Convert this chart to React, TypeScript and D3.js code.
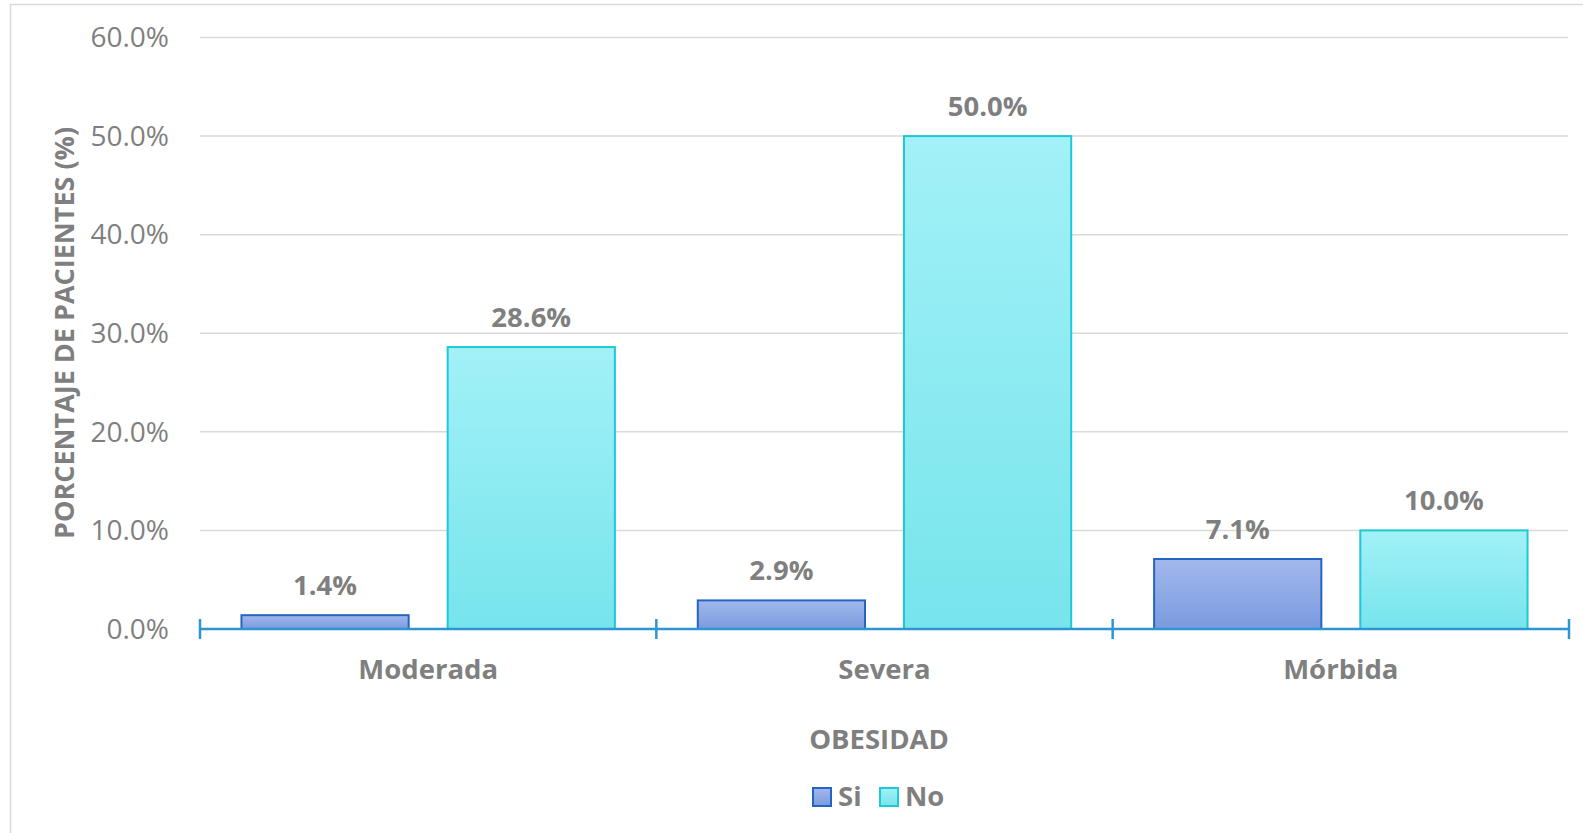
import React from "react";
import * as d3 from "d3";

const categories = ["Moderada", "Severa", "Mórbida"];
const seriesNames = ["Si", "No"];
const siValues = [1.4, 2.9, 7.1];
const noValues = [28.6, 50.0, 10.0];
const yTicks = [0, 10, 20, 30, 40, 50, 60];
const yTitle = "PORCENTAJE DE PACIENTES (%)";
const xTitle = "OBESIDAD";

const W = 1583;
const H = 833;
const FONT = "'Open Sans', sans-serif";
const GREY = "#7f7f7f";

export default function App() {
  const x0 = d3.scaleBand<string>().domain(categories).range([200, 1569]).paddingInner(0).paddingOuter(0);
  const x1 = d3.scaleBand<string>().domain(seriesNames).range([0, x0.bandwidth()]).paddingInner(0.189).paddingOuter(0.201);
  const y = d3.scaleLinear().domain([0, 60]).range([629, 37.5]);
  const series = [
    { name: "Si", values: siValues, grad: "gSi", stroke: "#2366c2" },
    { name: "No", values: noValues, grad: "gNo", stroke: "#1ec8d6" },
  ];
  const boundaries = [...categories.map((c) => x0(c) as number), x0.range()[1]];
  return (
    <svg width={W} height={H} style={{ position: "absolute", left: 0, top: 0 }}>
      <defs>
        <linearGradient id="gSi" x1="0" y1="0" x2="0" y2="1">
          <stop offset="0" stopColor="#a3b8ec" />
          <stop offset="1" stopColor="#7a9ade" />
        </linearGradient>
        <linearGradient id="gNo" x1="0" y1="0" x2="0" y2="1">
          <stop offset="0" stopColor="#a2f1f7" />
          <stop offset="1" stopColor="#77e4ec" />
        </linearGradient>
      </defs>
      <rect x={0} y={0} width={W} height={H} fill="#fff" />
      <rect x={10.5} y={4.5} width={W + 20} height={H + 20} fill="none" stroke="#d9d9d9" strokeWidth={1.5} />
      {yTicks.map((t) => (
        <g key={t}>
          {t > 0 && (
            <line x1={200} x2={1568} y1={y(t)} y2={y(t)} stroke="#d9d9d9" strokeWidth={1.5} />
          )}
          <text x={169} y={y(t)} dy="0.35em" textAnchor="end" fontFamily={FONT} fontSize={28} fill={GREY}>
            {t.toFixed(1) + "%"}
          </text>
        </g>
      ))}
      {series.map((s) =>
        categories.map((c, i) => {
          const bx = (x0(c) as number) + (x1(s.name) as number);
          const by = y(s.values[i]);
          return (
            <g key={s.name + c}>
              <rect
                x={bx}
                y={by}
                width={x1.bandwidth()}
                height={y(0) - by}
                fill={`url(#${s.grad})`}
                stroke={s.stroke}
                strokeWidth={2}
              />
              <text
                x={bx + x1.bandwidth() / 2}
                y={by - 20}
                textAnchor="middle"
                fontFamily={FONT}
                fontWeight="bold"
                fontSize={27.5}
                fill={GREY}
              >
                {s.values[i].toFixed(1) + "%"}
              </text>
            </g>
          );
        })
      )}
      <line x1={200} x2={1569} y1={y(0)} y2={y(0)} stroke="#2e95d3" strokeWidth={2.5} />
      {boundaries.map((bx, i) => (
        <line key={i} x1={bx} x2={bx} y1={y(0) - 10} y2={y(0) + 10} stroke="#2e95d3" strokeWidth={2.5} />
      ))}
      {categories.map((c) => (
        <text
          key={c}
          x={(x0(c) as number) + x0.bandwidth() / 2}
          y={679}
          textAnchor="middle"
          fontFamily={FONT}
          fontWeight="bold"
          fontSize={27.5}
          fill={GREY}
        >
          {c}
        </text>
      ))}
      <text x={879} y={749} textAnchor="middle" fontFamily={FONT} fontWeight="bold" fontSize={27.5} fill={GREY}>
        {xTitle}
      </text>
      <text
        transform={`translate(74,333) rotate(-90)`}
        textAnchor="middle"
        fontFamily={FONT}
        fontWeight="bold"
        fontSize={27}
        fill={GREY}
      >
        {yTitle}
      </text>
      <g>
        <rect x={813} y={788} width={18} height={18} fill="url(#gSi)" stroke="#2366c2" strokeWidth={2} />
        <text x={838} y={806} fontFamily={FONT} fontWeight="bold" fontSize={27.5} fill={GREY}>
          {seriesNames[0]}
        </text>
        <rect x={880} y={788} width={18} height={18} fill="url(#gNo)" stroke="#1ec8d6" strokeWidth={2} />
        <text x={905} y={806} fontFamily={FONT} fontWeight="bold" fontSize={27.5} fill={GREY}>
          {seriesNames[1]}
        </text>
      </g>
    </svg>
  );
}
